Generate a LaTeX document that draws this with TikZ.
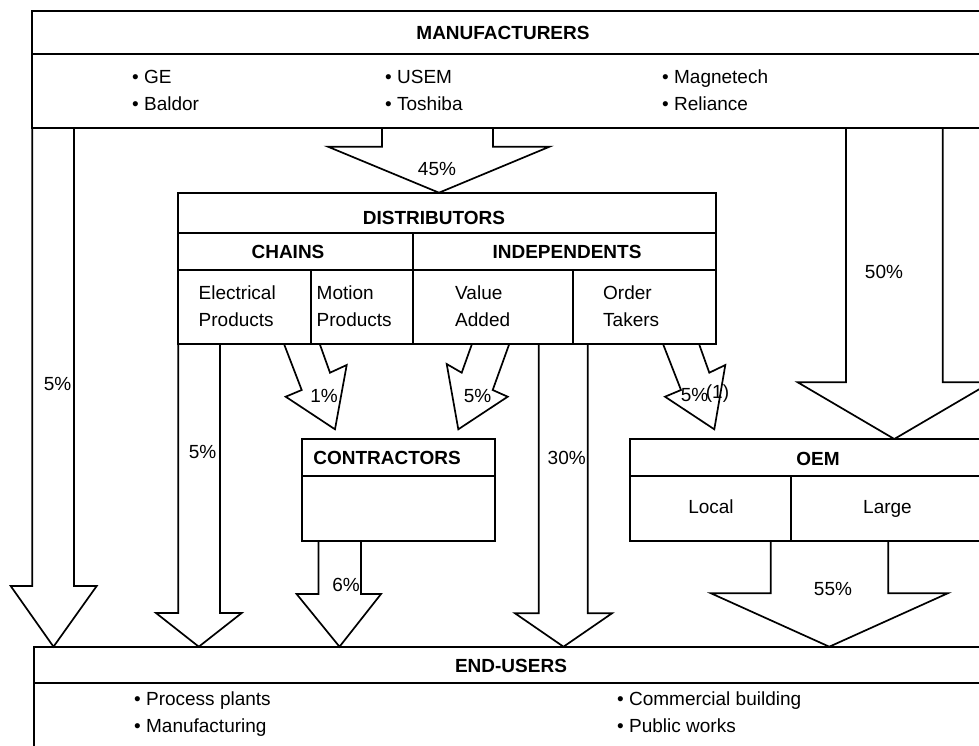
\documentclass[tikz,border=0pt]{standalone}
\usepackage{fontspec}
\setmainfont{Liberation Sans}
\begin{document}
\begin{tikzpicture}[x=1pt,y=-1pt,
  boxline/.style={line width=2pt},
  flow/.style={line width=1.7pt, line join=miter},
  txt/.style={inner sep=0pt, font=\fontsize{19}{26.6}\selectfont},
  hd/.style={inner sep=0pt, font=\fontsize{19}{26.6}\selectfont\bfseries},
]
\useasboundingbox (0,0) rectangle (979,745);
\clip (0,0) rectangle (979,745);

% ---------- boxes ----------
% Manufacturers
\draw[boxline] (1000,10.5) -- (32.3,10.5) -- (32.3,128) -- (1000,128);
\draw[boxline] (32.3,54) -- (1000,54);
% Distributors
\draw[boxline] (178.3,192.7) rectangle (716,344);
\draw[boxline] (178.3,232.7) -- (716,232.7);
\draw[boxline] (178.3,270) -- (716,270);
\draw[boxline] (413.3,232.7) -- (413.3,344);
\draw[boxline] (311,270) -- (311,344);
\draw[boxline] (572.7,270) -- (572.7,344);
% Contractors
\draw[boxline] (302.3,439) rectangle (495,540.7);
\draw[boxline] (302.3,476) -- (495,476);
% OEM
\draw[boxline] (1000,439) -- (630,439) -- (630,540.7) -- (1000,540.7);
\draw[boxline] (630,476) -- (1000,476);
\draw[boxline] (791,476) -- (791,540.7);
% End-users
\draw[boxline] (34,760) -- (34,646.7) -- (1000,646.7);
\draw[boxline] (34,683) -- (1000,683);

% ---------- block arrows ----------
% manufacturers -> end-users (5%)
\draw[flow] (32.3,128) -- (32.3,586) -- (10.7,586) -- (53.5,646.7) -- (96.7,586) -- (74,586) -- (74,128);
% manufacturers -> distributors (45%)
\draw[flow] (382,128) -- (382,146.7) -- (328,146.7) -- (439,192.7) -- (549.5,146.7) -- (493,146.7) -- (493,128);
% manufacturers -> OEM (50%)
\draw[flow] (846,128) -- (846,382.3) -- (797.7,382.3) -- (894.3,439) -- (991,382.3) -- (942.7,382.3) -- (942.7,128);
% electrical products -> end-users (5%)
\draw[flow] (178.3,344) -- (178.3,613) -- (156,613) -- (198.8,646.7) -- (241.7,613) -- (220,613) -- (220,344);
% motion products -> contractors (1%)
\draw[flow] (284.3,344.7) -- (301.7,390) -- (285.7,396.7) -- (335,429.3) -- (346.7,365) -- (330,372.7) -- (320,344.7);
% value added -> contractors (5%)
\draw[flow] (471.7,344.7) -- (461.7,372.7) -- (446.7,364) -- (458.3,429.3) -- (507.7,396.7) -- (492.7,390) -- (509,344.7);
% independents -> end-users (30%)
\draw[flow] (538.7,344) -- (538.7,613.3) -- (515,613.3) -- (563.5,646.7) -- (612,613.3) -- (587.7,613.3) -- (587.7,344);
% order takers -> OEM (5%(1))
\draw[flow] (663.3,344.7) -- (681,390) -- (665,396.7) -- (714.3,429.3) -- (725.3,365) -- (709.3,372.7) -- (699.3,344.7);
% contractors -> end-users (6%)
\draw[flow] (318.4,540.7) -- (318.4,594) -- (296.6,594) -- (339.5,646.7) -- (381,594) -- (361,594) -- (361,540.7);
% OEM -> end-users (55%)
\draw[flow] (770.7,540.7) -- (770.7,593.3) -- (711,593.3) -- (829.3,646.7) -- (947.7,593.3) -- (888.3,593.3) -- (888.3,540.7);

% ---------- texts ----------
\node[hd, anchor=base] (mfr) at (503,39) {MANUFACTURERS};
\node[txt, anchor=base west] (m1) at (132,83) {• GE};
\node[txt, anchor=base west] (m2) at (132,110) {• Baldor};
\node[txt, anchor=base west] (m3) at (385,83) {• USEM};
\node[txt, anchor=base west] (m4) at (385,110) {• Toshiba};
\node[txt, anchor=base west] (m5) at (662,83) {• Magnetech};
\node[txt, anchor=base west] (m6) at (662,110) {• Reliance};

\node[hd, anchor=base] (dist) at (434,224) {DISTRIBUTORS};
\node[hd, anchor=base] (chains) at (288,258) {CHAINS};
\node[hd, anchor=base] (indep) at (567,258) {INDEPENDENTS};
\node[txt, anchor=base west] (ep1) at (198.5,299.5) {Electrical};
\node[txt, anchor=base west] (ep2) at (198.5,326) {Products};
\node[txt, anchor=base west] (mp1) at (316.5,299.5) {Motion};
\node[txt, anchor=base west] (mp2) at (316.5,326) {Products};
\node[txt, anchor=base west] (va1) at (455,299.5) {Value};
\node[txt, anchor=base west] (va2) at (455,326) {Added};
\node[txt, anchor=base west] (ot1) at (603,299.5) {Order};
\node[txt, anchor=base west] (ot2) at (603,326) {Takers};

\node[hd, anchor=base] (contr) at (387,464.5) {CONTRACTORS};
\node[hd, anchor=base] (oem) at (818,465) {OEM};
\node[txt, anchor=base] (local) at (711,513.5) {Local};
\node[txt, anchor=base] (large) at (887.5,513.5) {Large};

\node[hd, anchor=base] (eu) at (511,672) {END-USERS};
\node[txt, anchor=base west] (u1) at (134,705) {• Process plants};
\node[txt, anchor=base west] (u2) at (134,732) {• Manufacturing};
\node[txt, anchor=base west] (u3) at (617,705) {• Commercial building};
\node[txt, anchor=base west] (u4) at (617,732) {• Public works};

% percentages
\node[txt, anchor=base] (p45) at (437,175) {45\%};
\node[txt, anchor=base] (p50) at (884,278) {50\%};
\node[txt, anchor=base] (p5a) at (57.5,390) {5\%};
\node[txt, anchor=base] (p5b) at (202.5,458) {5\%};
\node[txt, anchor=base] (p1) at (324,402) {1\%};
\node[txt, anchor=base] (p5c) at (477.5,402) {5\%};
\node[txt, anchor=base] (p5d) at (705,401) {5\%\kern-2.5pt\raisebox{2.5pt}{(1)}};
\node[txt, anchor=base] (p30) at (566.7,464.5) {30\%};
\node[txt, anchor=base] (p6) at (346,591) {6\%};
\node[txt, anchor=base] (p55) at (833,595) {55\%};
\end{tikzpicture}
\end{document}
